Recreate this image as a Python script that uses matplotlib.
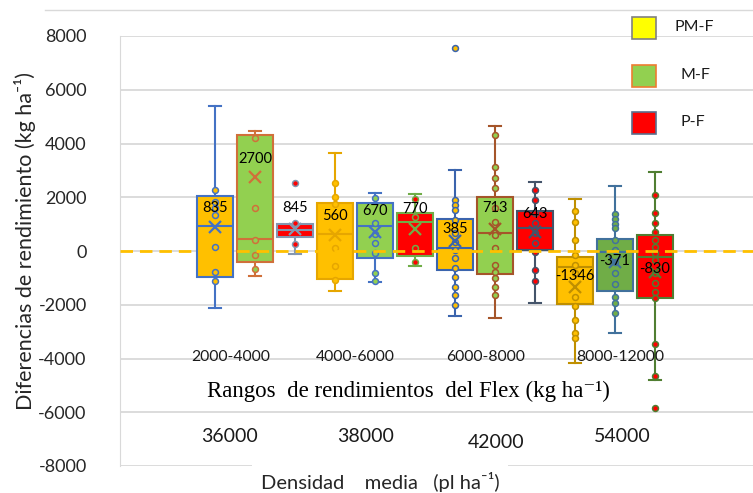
import numpy as np
import matplotlib.pyplot as plt
from matplotlib.patches import Rectangle
from matplotlib.lines import Line2D

plt.rcParams['font.family'] = ['Lato', 'DejaVu Sans']
plt.rcParams['axes.unicode_minus'] = False

rangos = ['2000-4000', '4000-6000', '6000-8000', '8000-12000']
densidad = ['36000', '38000', '42000', '54000']
series = ['PM-F', 'M-F', 'P-F']

# box stats (kg ha-1), one value per yield range
pmf_q1 = [-967, -1040, -710, -1970]
pmf_med = [929, 630, 110, -600]
pmf_q3 = [2045, 1780, 1190, -220]
pmf_lo = [-2120, -1490, -2420, -4160]
pmf_hi = [5390, 3640, 3010, 1930]
pmf_mean = [892, 600, 370, -1340]
pmf_lab = [835, 560, 385, -1346]

mf_q1 = [-410, -260, -860, -1490]
mf_med = [450, 930, 670, -40]
mf_q3 = [4310, 1780, 2010, 450]
mf_lo = [-930, -1150, -2490, -3050]
mf_hi = [4460, 2150, 4650, 2420]
mf_mean = [2750, 710, 820, -410]
mf_lab = [2700, 670, 713, -371]

pf_q1 = [520, -190, 40, -1750]
pf_med = [780, 1080, 860, -220]
pf_q3 = [1000, 1410, 1490, 600]
pf_lo = [-110, -560, -1930, -4800]
pf_hi = [1000, 2120, 2570, 2940]
pf_mean = [820, 820, 710, -780]
pf_lab = [845, 770, 643, -830]

# individual points
pmf_pts = [[2270, 1820, 1600, 1340, 150, -780, -1115],
           [2530, 2010, 1750, 110, -560, -1080],
           [7550, 1900, 1710, 1520, 1150, 670, 330, 40, -260, -630, -970, -1340, -1640, -2010],
           [1490, 1080, 410, -150, -520, -820, -1710, -2050, -2570, -3050, -3230]]
mf_pts = [[4200, 1600, 410, -150, -670],
          [1970, 1040, 630, 300, -70, -820, -1120],
          [4310, 3120, 2710, 2340, 1600, 1080, 590, 110, -520, -780, -1000, -1340, -1640],
          [1380, 1190, 1000, 860, 410, 40, -410, -820, -1230, -1710, -1930, -2300]]
pf_pts = [[2530, 1040, 260],
          [1930, 1260, 110, -410],
          [2270, 1900, 1410, 1040, 670, 300, -40, -710, -1120],
          [2080, 1410, 1040, 710, 410, 150, -70, -330, -820, -1190, -1520, -1750, -3460, -4650, -5840]]

fills = [['#FFC000'] * 4,
         ['#92D050', '#92D050', '#92D050', '#70AD47'],
         ['#FF0000'] * 4]
edges = [['#4472C4', '#E6A600', '#3B64AD', '#BF8F00'],
         ['#D0703A', '#4472C4', '#A5552A', '#41719C'],
         ['#8497B0', '#70AD47', '#44546A', '#507E32']]
legend_fill = ['#FFFF00', '#92D050', '#FF0000']
legend_edge = ['#808080', '#ED7D31', '#5A6E8C']

data = [
    (pmf_q1, pmf_med, pmf_q3, pmf_lo, pmf_hi, pmf_mean, pmf_lab, pmf_pts),
    (mf_q1, mf_med, mf_q3, mf_lo, mf_hi, mf_mean, mf_lab, mf_pts),
    (pf_q1, pf_med, pf_q3, pf_lo, pf_hi, pf_mean, pf_lab, pf_pts),
]

W, H = 753, 493
fig = plt.figure(figsize=(W / 100, H / 100), dpi=100)
ax = fig.add_axes([120 / W, 27 / H, 633 / W, 430 / H])
ax.set_xlim(-1.125, 4.15)
ax.set_ylim(-8000, 8000)
ax.set_yticks(range(-8000, 8001, 2000))
ax.set_xticks([])
ax.grid(axis='y', color='#D9D9D9', lw=1.3)
ax.set_axisbelow(True)
for sp in ['top', 'right', 'bottom']:
    ax.spines[sp].set_visible(False)
ax.spines['left'].set_color('#D9D9D9')
ax.tick_params(axis='y', length=0, pad=24, labelsize=13, labelcolor='#262626')

offsets = [-1 / 3, 0, 1 / 3]
lab_shift = [[700, 700, 450, 410], [670, 780, 780, 40], [780, 740, 670, 110]]

for si, (q1, med, q3, lo, hi, mean, lab, pts) in enumerate(data):
    pos = np.arange(4) + offsets[si]
    stats = [dict(q1=q1[i], med=med[i], q3=q3[i], whislo=lo[i], whishi=hi[i],
                  mean=mean[i], fliers=[]) for i in range(4)]
    bp = ax.bxp(stats, positions=pos, widths=0.3, capwidths=0.1, patch_artist=True,
                showmeans=True, showfliers=False, manage_ticks=False)
    for i in range(4):
        ec = edges[si][i]
        bp['boxes'][i].set(facecolor=fills[si][i], edgecolor=ec, lw=1.5, zorder=2)
        bp['medians'][i].set(color=ec, lw=1.5, zorder=3)
        bp['means'][i].set(marker='x', markeredgecolor=ec, markersize=8, mew=1.6, zorder=4)
        for k in (2 * i, 2 * i + 1):
            bp['whiskers'][k].set(color=ec, lw=1.5, zorder=1.5)
            bp['caps'][k].set(color=ec, lw=1.5, zorder=1.5)
        ax.scatter([pos[i]] * len(pts[i]), pts[i], s=18, facecolor=fills[si][i],
                   edgecolor=ec, lw=1.1, zorder=3.5)
        ax.text(pos[i], mean[i] + lab_shift[si][i], str(lab[i]), ha='center', va='center',
                fontsize=10.5, color='black', zorder=6)

ax.axhline(0, color='#FFC000', lw=2, ls=(0, (4.5, 2.5)), zorder=5)

# texts under the boxes
rx = [231, 355, 486, 620]
for i, t in enumerate(rangos):
    fig.text(rx[i] / W, 1 - 357 / H, t, ha='center', va='center', fontsize=11.3, color='#1a1a1a')
fig.text(408 / W, 1 - 391 / H, 'Rangos  de rendimientos  del Flex (kg ha\u207b\u00b9)',
         ha='center', va='center', fontsize=16.5, family=['Liberation Serif', 'DejaVu Serif'])
dx = [230, 366, 496, 622]
dy = [437, 437, 442, 437]
for i, t in enumerate(densidad):
    fig.text(dx[i] / W, 1 - dy[i] / H, t, ha='center', va='center', fontsize=14, color='#1a1a1a')
fig.text(380 / W, 1 - 482 / H, 'Densidad    media   (pl ha\u207b\u00b9)', ha='center', va='center',
         fontsize=14.5, color='#262626',
         bbox=dict(facecolor='white', edgecolor='none', pad=6))

fig.text(25 / W, 1 - 241 / H, 'Diferencias de rendimiento (kg ha\u207b\u00b9)', rotation=90,
         ha='center', va='center', fontsize=15.5, color='#262626')

# chart border on top
fig.add_artist(Line2D([45 / W, 1], [1 - 10 / H, 1 - 10 / H], color='#D9D9D9', lw=1))

# legend
for i, s in enumerate(series):
    y0 = 17 + i * 47.5
    fig.add_artist(Rectangle((632 / W, 1 - (y0 + 22) / H), 24 / W, 22 / H,
                             facecolor=legend_fill[i], edgecolor=legend_edge[i], lw=1.2))
    fig.text((675 if i == 0 else 681) / W, 1 - (y0 + 10) / H, s, ha='left', va='center',
             fontsize=11.5, color='#1a1a1a')

fig.savefig('out.png', dpi=100)
